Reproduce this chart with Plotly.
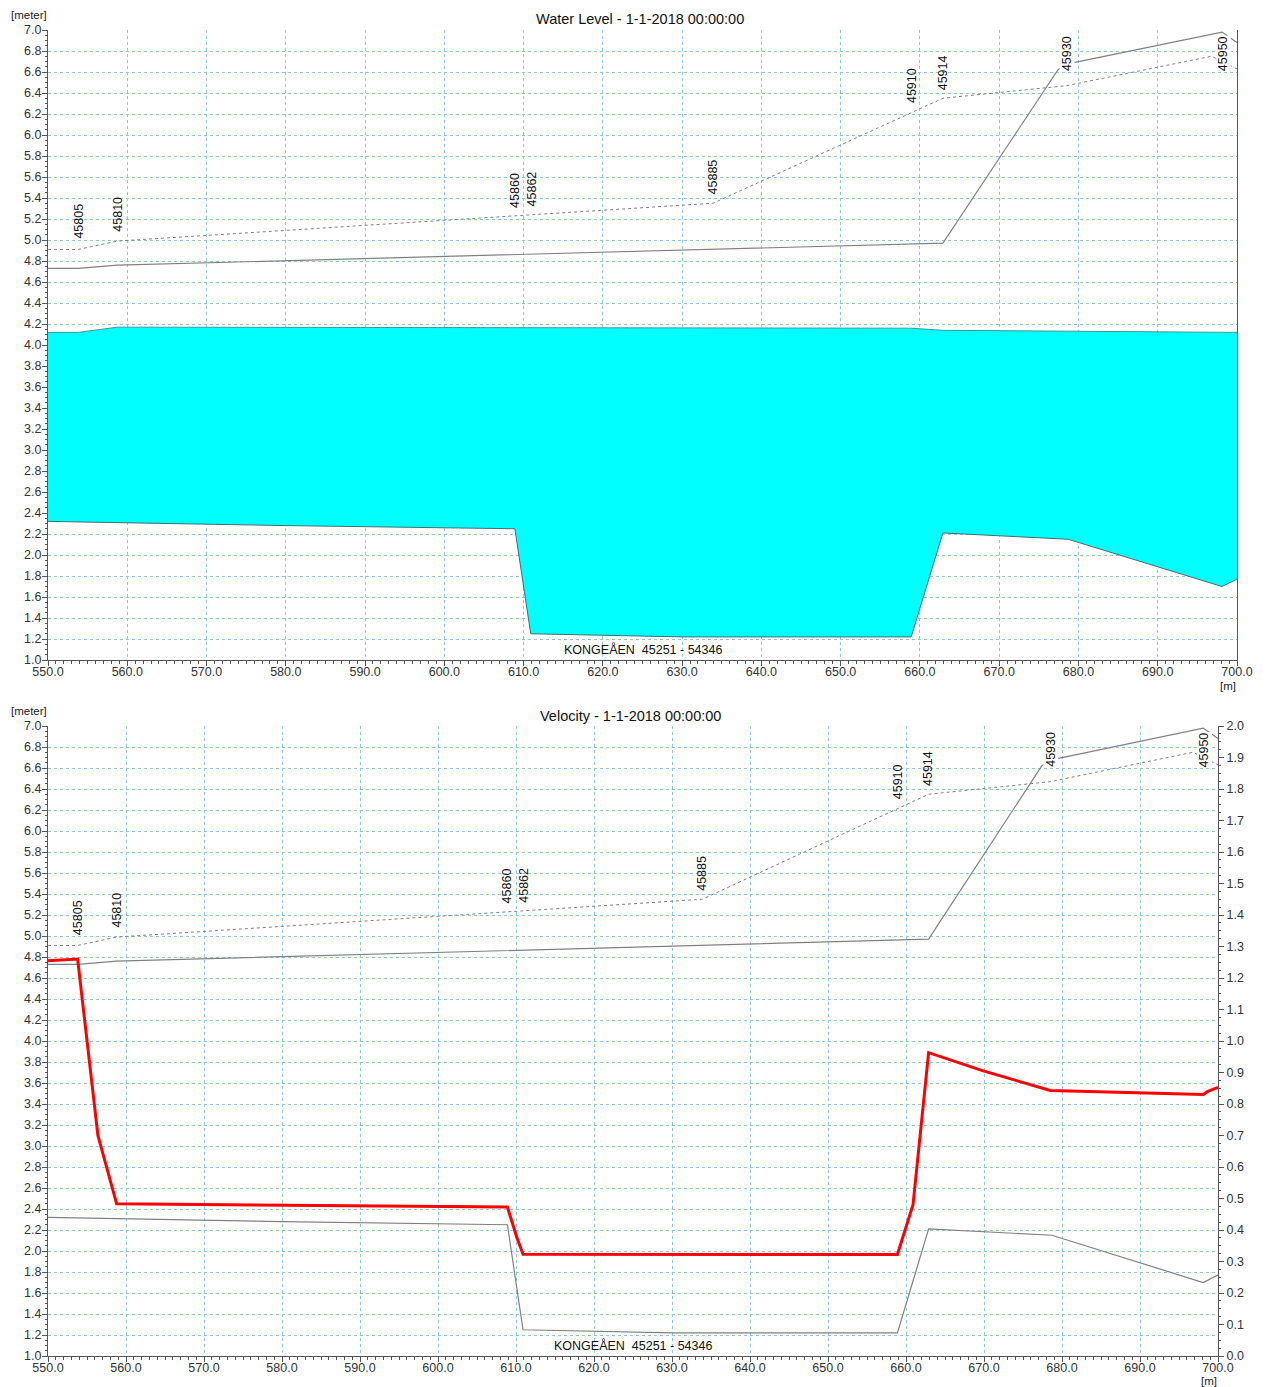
import plotly.graph_objects as go

# ---- Cross-section profile data (chainage in m, levels in meter) ----
bank_solid_x = [550.0, 553.8, 558.8, 662.9, 677.4, 678.5, 679.4, 698.1, 700.0]
bank_solid_y = [4.73, 4.73, 4.76, 4.97, 6.62, 6.68, 6.69, 6.98, 6.88]

bank_dotted_x = [550.0, 553.8, 558.8, 608.9, 633.9, 662.9, 678.5, 696.8, 700.0]
bank_dotted_y = [4.91, 4.91, 4.99, 5.23, 5.35, 6.35, 6.47, 6.75, 6.63]

surface_x = [550.0, 553.8, 558.8, 658.9, 662.9, 700.0]
surface_y = [4.12, 4.12, 4.17, 4.16, 4.14, 4.12]

bed_x = [550.0, 580.0, 608.9, 610.9, 630.0, 658.9, 662.9, 678.7, 698.1, 700.0]
bed_y = [2.32, 2.28, 2.25, 1.25, 1.22, 1.22, 2.21, 2.15, 1.70, 1.77]

velocity_x = [550.0, 553.8, 556.4, 558.8, 608.9, 610.1, 610.9, 658.9,
              660.9, 662.9, 669.9, 678.5, 698.1, 698.7, 700.0]
velocity_v = [1.255, 1.26, 0.70, 0.483, 0.473, 0.377, 0.323, 0.322,
              0.48, 0.963, 0.905, 0.843, 0.83, 0.84, 0.853]

# cross-section ids: chainage and label base level
section_ids = ["45805", "45810", "45860", "45862", "45885",
               "45910", "45914", "45930", "45950"]
section_x = [553.8, 558.9, 608.9, 611.0, 633.9, 659.0, 662.9, 678.5, 698.2]
section_label_y = [5.00, 5.07, 5.30, 5.31, 5.42, 6.29, 6.42, 6.60, 6.60]

x_ticks = [550 + 10 * i for i in range(16)]

W, H = 1266, 1387
FONT = "Liberation Sans, Arial, sans-serif"
GRID = "#8fc3f5"
AXIS = "#555555"
GRAY = "#808080"


def px_x(p):
    return p / W


def px_y(p):
    return 1 - p / H


fig = go.Figure()

# ---- top panel: water level ----
poly_x = surface_x + bed_x[::-1]
poly_y = surface_y + bed_y[::-1]
fig.add_trace(go.Scatter(x=poly_x, y=poly_y, mode="lines", fill="toself",
                         fillcolor="#00ffff", line=dict(color="#00ffff", width=0),
                         xaxis="x", yaxis="y", hoverinfo="skip"))
fig.add_trace(go.Scatter(x=surface_x, y=surface_y, mode="lines",
                         line=dict(color="#3a9a9a", width=1), xaxis="x", yaxis="y"))
fig.add_trace(go.Scatter(x=bed_x, y=bed_y, mode="lines",
                         line=dict(color="#3f6f6f", width=1), xaxis="x", yaxis="y"))
fig.add_trace(go.Scatter(x=bank_solid_x, y=bank_solid_y, mode="lines",
                         line=dict(color=GRAY, width=1.2), xaxis="x", yaxis="y"))
fig.add_trace(go.Scatter(x=bank_dotted_x, y=bank_dotted_y, mode="lines",
                         line=dict(color=GRAY, width=1, dash="dot"), xaxis="x", yaxis="y"))

# ---- bottom panel: velocity ----
fig.add_trace(go.Scatter(x=bed_x, y=bed_y, mode="lines",
                         line=dict(color=GRAY, width=1.2), xaxis="x2", yaxis="y2"))
fig.add_trace(go.Scatter(x=bank_solid_x, y=bank_solid_y, mode="lines",
                         line=dict(color=GRAY, width=1.2), xaxis="x2", yaxis="y2"))
fig.add_trace(go.Scatter(x=bank_dotted_x, y=bank_dotted_y, mode="lines",
                         line=dict(color=GRAY, width=1, dash="dot"), xaxis="x2", yaxis="y2"))
fig.add_trace(go.Scatter(x=velocity_x, y=velocity_v, mode="lines",
                         line=dict(color="#ff0000", width=3), xaxis="x2", yaxis="y3"))

tickfont = dict(family=FONT, size=12.5, color="#333333")


def xaxis_cfg(domain, anchor):
    return dict(domain=domain, anchor=anchor, range=[550, 700], tickvals=x_ticks,
                ticktext=[f"{v:.1f}" for v in x_ticks], showgrid=True,
                gridcolor=GRID, griddash="dot", gridwidth=1, showline=True,
                linecolor=AXIS, linewidth=1, ticks="outside", ticklen=5,
                tickcolor=AXIS, zeroline=False, tickfont=tickfont, automargin=False,
                ticklabelstandoff=-5,
                minor=dict(dtick=1, ticks="outside", ticklen=3, tickcolor=AXIS,
                           showgrid=False))


def yaxis_cfg(domain, anchor):
    return dict(domain=domain, anchor=anchor, range=[1, 7], dtick=0.2,
                tickformat=".1f", showgrid=True, gridcolor=GRID, griddash="dot",
                gridwidth=1, showline=True, linecolor=AXIS, linewidth=1,
                mirror=True, ticks="outside", ticklen=5, tickcolor=AXIS,
                zeroline=False, tickfont=tickfont, automargin=False,
                ticklabelstandoff=-2,
                minor=dict(dtick=0.05, ticks="outside", ticklen=2, tickcolor=AXIS,
                           showgrid=False))


top_dom_y = [px_y(660), px_y(30)]
bot_dom_y = [px_y(1356), px_y(726)]

fig.update_layout(
    width=W, height=H, template="none", showlegend=False,
    margin=dict(l=0, r=0, t=0, b=0),
    paper_bgcolor="white", plot_bgcolor="white",
    font=dict(family=FONT, size=12, color="#222222"),
    xaxis=xaxis_cfg([px_x(48), px_x(1237)], "y"),
    yaxis=yaxis_cfg(top_dom_y, "x"),
    xaxis2=xaxis_cfg([px_x(48), px_x(1218)], "y2"),
    yaxis2=yaxis_cfg(bot_dom_y, "x2"),
    yaxis3=dict(overlaying="y2", anchor="x2", side="right", range=[0, 2],
                dtick=0.1, tickformat=".1f", showgrid=False, showline=True,
                linecolor=AXIS, linewidth=1, ticks="outside", ticklen=5,
                tickcolor=AXIS, zeroline=False, tickfont=tickfont, automargin=False,
                minor=dict(dtick=0.025, ticks="outside", ticklen=2, tickcolor=AXIS)),
)

annotations = []
# panel titles and unit labels
annotations.append(dict(text="Water Level - 1-1-2018 00:00:00", xref="paper", yref="paper",
                        x=px_x(640), y=px_y(19), xanchor="center", yanchor="middle",
                        showarrow=False, font=dict(size=14.5, color="#111111")))
annotations.append(dict(text="Velocity - 1-1-2018 00:00:00", xref="paper", yref="paper",
                        x=px_x(630), y=px_y(716), xanchor="center", yanchor="middle",
                        showarrow=False, font=dict(size=14.5, color="#111111")))
for ypx in (15, 711):
    annotations.append(dict(text="[meter]", xref="paper", yref="paper", x=px_x(9),
                            y=px_y(ypx), xanchor="left", yanchor="middle",
                            showarrow=False, font=dict(size=11.5, color="#222222")))
annotations.append(dict(text="[m]", xref="paper", yref="paper", x=px_x(1228),
                        y=px_y(686), xanchor="center", yanchor="middle",
                        showarrow=False, font=dict(size=11.5, color="#222222")))
annotations.append(dict(text="[m]", xref="paper", yref="paper", x=px_x(1209),
                        y=px_y(1381), xanchor="center", yanchor="middle",
                        showarrow=False, font=dict(size=11.5, color="#222222")))

# river name and section labels on both panels
for xr, yr in (("x", "y"), ("x2", "y2")):
    annotations.append(dict(text="KONGEÅEN  45251 - 54346", xref=xr, yref=yr,
                            x=625, y=1.1, xanchor="center", yanchor="middle",
                            showarrow=False, font=dict(size=12.5, color="#111111")))
    for sid, sx, sy in zip(section_ids, section_x, section_label_y):
        boxed = sid in ("45930", "45950")
        annotations.append(dict(text=sid, xref=xr, yref=yr, x=sx, y=sy,
                                textangle=-90, xanchor="center", yanchor="bottom",
                                showarrow=False, borderpad=0,
                                bgcolor="white" if boxed else None,
                                font=dict(size=12.5, color="#111111")))

fig.update_layout(annotations=annotations)

fig.write_html("out.html")
